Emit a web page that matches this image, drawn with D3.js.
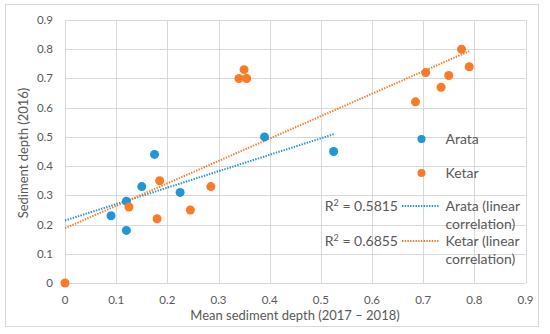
<!DOCTYPE html>
<html>
<head>
<meta charset="utf-8">
<script src="https://cdn.jsdelivr.net/npm/d3@7"></script>
<style>
  body { margin: 0; background: #fff; }
  svg text { font-family: Lato, "Open Sans", sans-serif; fill: #595959; }
</style>
</head>
<body>
<svg id="chart" width="550" height="334"></svg>
<script>
// data
const arataX = [0.09, 0.12, 0.12, 0.15, 0.175, 0.225, 0.39, 0.525];
const arataY = [0.23, 0.28, 0.18, 0.33, 0.44, 0.31, 0.50, 0.45];
const ketarX = [0, 0.125, 0.18, 0.185, 0.245, 0.285, 0.34, 0.35, 0.355, 0.685, 0.705, 0.735, 0.75, 0.775, 0.79];
const ketarY = [0, 0.26, 0.22, 0.35, 0.25, 0.33, 0.70, 0.73, 0.70, 0.62, 0.72, 0.67, 0.71, 0.80, 0.74];
const xTicks = [0, 0.1, 0.2, 0.3, 0.4, 0.5, 0.6, 0.7, 0.8, 0.9];
const yTicks = [0, 0.1, 0.2, 0.3, 0.4, 0.5, 0.6, 0.7, 0.8, 0.9];
const seriesNames = ['Arata', 'Ketar'];
const r2Labels = ['0.5815', '0.6855'];
const colors = ['#1f96d6', '#fb7a26'];

const svg = d3.select('#chart');

const x = d3.scaleLinear().domain([0, 0.9]).range([65, 525.5]);
const y = d3.scaleLinear().domain([0, 0.9]).range([283, 20]);

// outer frame
svg.append('rect')
  .attr('x', 5.5).attr('y', 4.5)
  .attr('width', 533).attr('height', 322)
  .attr('fill', 'none').attr('stroke', '#d9d9d9');

// grid
svg.append('g').selectAll('line.v')
  .data(xTicks).enter().append('line')
  .attr('x1', d => Math.round(x(d)) + 0.5).attr('x2', d => Math.round(x(d)) + 0.5)
  .attr('y1', y(0.9)).attr('y2', y(0))
  .attr('stroke', '#d9d9d9');
svg.append('g').selectAll('line.h')
  .data(yTicks).enter().append('line')
  .attr('x1', x(0)).attr('x2', x(0.9))
  .attr('y1', d => Math.round(y(d)) + 0.5).attr('y2', d => Math.round(y(d)) + 0.5)
  .attr('stroke', '#d9d9d9');

// tick labels
const fmt = d => d === 0 ? '0' : d3.format('.1f')(d);
svg.append('g').selectAll('text')
  .data(xTicks).enter().append('text')
  .attr('x', d => x(d)).attr('y', 304)
  .attr('text-anchor', 'middle').style('font-size', '11.5px')
  .text(fmt);
svg.append('g').selectAll('text')
  .data(yTicks).enter().append('text')
  .attr('x', 53).attr('y', d => y(d) + 4)
  .attr('text-anchor', 'end').style('font-size', '11.5px')
  .text(fmt);

// axis titles
svg.append('text')
  .attr('x', 295).attr('y', 320)
  .attr('text-anchor', 'middle').style('font-size', '13px')
  .text('Mean sediment depth (2017 – 2018)');
svg.append('text')
  .attr('transform', 'translate(28,153) rotate(-90)')
  .attr('text-anchor', 'middle').style('font-size', '13px')
  .text('Sediment depth (2016)');

// linear regression like Excel's trendline
function fit(xs, ys) {
  const mx = d3.mean(xs), my = d3.mean(ys);
  let sxy = 0, sxx = 0;
  xs.forEach((v, i) => { sxy += (v - mx) * (ys[i] - my); sxx += (v - mx) * (v - mx); });
  const b = sxy / sxx;
  return { b: b, a: my - b * mx };
}

const series = [
  { xs: arataX, ys: arataY },
  { xs: ketarX, ys: ketarY }
];

// trendlines
series.forEach((s, i) => {
  const f = fit(s.xs, s.ys);
  const x1 = d3.max(s.xs);
  svg.append('line')
    .attr('x1', x(0)).attr('y1', y(f.a))
    .attr('x2', x(x1)).attr('y2', y(f.a + f.b * x1))
    .attr('stroke', colors[i]).attr('stroke-width', 2)
    .attr('stroke-dasharray', '1.4,1.3');
});

// points
series.forEach((s, i) => {
  svg.append('g').selectAll('circle')
    .data(s.xs).enter().append('circle')
    .attr('cx', d => x(d)).attr('cy', (d, j) => y(s.ys[j]))
    .attr('r', 4.5).attr('fill', colors[i]);
});

// legend
const leg = svg.append('g');
seriesNames.forEach((n, i) => {
  const cy = 139 + i * 34;
  leg.append('circle').attr('cx', 421.5).attr('cy', cy).attr('r', 4).attr('fill', colors[i]);
  leg.append('text').attr('x', 445.5).attr('y', cy + 5).style('font-size', '14px').text(n);
});
seriesNames.forEach((n, i) => {
  const cy = 206 + i * 35;
  const t = leg.append('text').attr('x', 398).attr('y', cy + 5)
    .attr('text-anchor', 'end').style('font-size', '14px');
  t.append('tspan').text('R');
  t.append('tspan').attr('dy', -5).style('font-size', '9px').text('2');
  t.append('tspan').attr('dy', 5).text(' = ' + r2Labels[i]);
  leg.append('line')
    .attr('x1', 402).attr('x2', 439).attr('y1', cy).attr('y2', cy)
    .attr('stroke', colors[i]).attr('stroke-width', 2)
    .attr('stroke-dasharray', '1.4,1.3');
  leg.append('text').attr('x', 445.5).attr('y', cy + 5).style('font-size', '14px').text(n + ' (linear');
  leg.append('text').attr('x', 445.5).attr('y', cy + 23).style('font-size', '14px').text('correlation)');
});
</script>
</body>
</html>
